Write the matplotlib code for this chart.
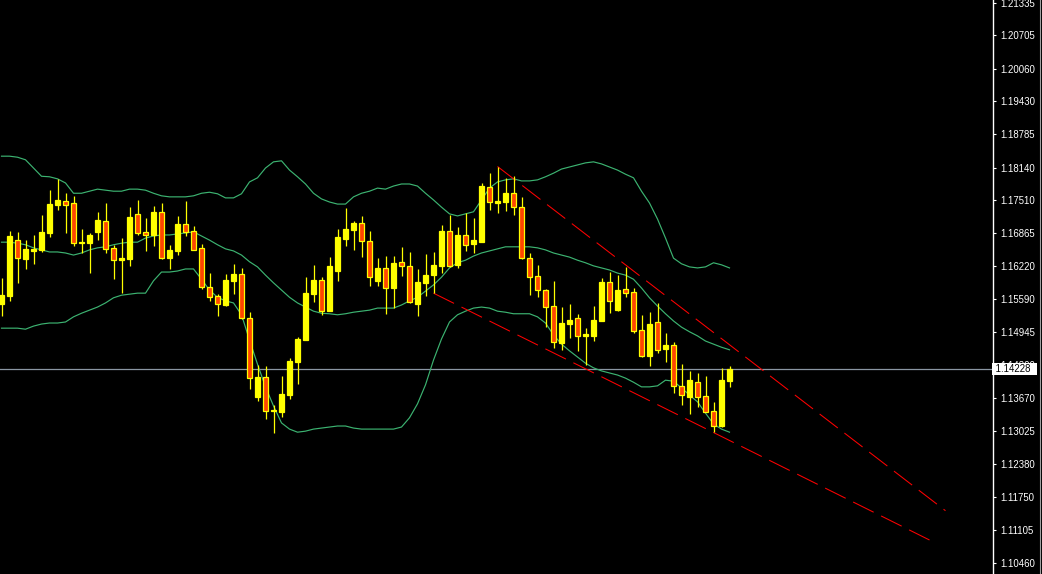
import matplotlib
matplotlib.use("Agg")
import matplotlib.pyplot as plt
import matplotlib.transforms as mtransforms
from matplotlib.lines import Line2D
import numpy as np

# ---------------- data ----------------
opens = [1.1549,1.1564,1.1673,1.1636,1.1652,1.1654,1.1687,1.1741,1.1749,1.1745,
 1.1667,1.1667,1.1689,1.1710,1.1658,1.1634,1.1636,1.1724,1.1689,1.1683,
 1.1728,1.1638,1.1652,1.1704,1.1691,1.1658,1.1582,1.1564,1.1547,1.1594,
 1.1607,1.1522,1.1368,1.1407,1.1341,1.1339,1.1372,1.1436,1.1479,1.1568,
 1.1596,1.1535,1.1613,1.1675,1.1693,1.1706,1.1671,1.1594,1.1619,1.1580,
 1.1631,1.1623,1.1549,1.1590,1.1605,1.1623,1.1691,1.1625,1.1683,1.1665,
 1.1669,1.1776,1.1745,1.1747,1.1764,1.1737,1.1638,1.1603,1.1576,1.1545,
 1.1473,1.1510,1.1522,1.1487,1.1487,1.1516,1.1592,1.1537,1.1578,1.1572,
 1.1498,1.1448,1.1514,1.1462,1.1469,1.1390,1.1368,1.1397,1.1370,1.1341,
 1.1312,1.1399]

highs = [1.1599,1.1691,1.1689,1.1673,1.1683,1.1722,1.1770,1.1792,1.1764,1.1759,
 1.1695,1.1687,1.1728,1.1745,1.1664,1.1677,1.1737,1.1751,1.1716,1.1739,
 1.1745,1.1664,1.1720,1.1749,1.1700,1.1665,1.1609,1.1568,1.1607,1.1627,
 1.1619,1.1533,1.1431,1.1429,1.1353,1.1409,1.1444,1.1485,1.1601,1.1625,
 1.1601,1.1640,1.1695,1.1735,1.1710,1.1720,1.1691,1.1638,1.1642,1.1642,
 1.1660,1.1650,1.1617,1.1646,1.1650,1.1702,1.1722,1.1699,1.1726,1.1716,
 1.1784,1.1803,1.1815,1.1794,1.1798,1.1757,1.1648,1.1625,1.1578,1.1594,
 1.1543,1.1549,1.1530,1.1502,1.1545,1.1599,1.1611,1.1605,1.1621,1.1580,
 1.1528,1.1533,1.1551,1.1493,1.1475,1.1432,1.1419,1.1415,1.1409,1.1359,
 1.1425,1.1429]

lows = [1.1526,1.1555,1.1590,1.1617,1.1627,1.1650,1.1679,1.1731,1.1687,1.1662,
 1.1648,1.1609,1.1673,1.1648,1.1597,1.1570,1.1623,1.1683,1.1652,1.1662,
 1.1636,1.1617,1.1644,1.1681,1.1654,1.1578,1.1555,1.1526,1.1545,1.1568,
 1.1520,1.1384,1.1361,1.1326,1.1298,1.1330,1.1364,1.1394,1.1479,1.1553,
 1.1528,1.1535,1.1594,1.1662,1.1654,1.1640,1.1584,1.1584,1.1530,1.1541,
 1.1603,1.1551,1.1526,1.1564,1.1570,1.1609,1.1621,1.1619,1.1652,1.1648,
 1.1669,1.1731,1.1726,1.1730,1.1722,1.1636,1.1566,1.1562,1.1504,1.1464,
 1.1460,1.1483,1.1458,1.1431,1.1477,1.1516,1.1531,1.1535,1.1562,1.1493,
 1.1446,1.1429,1.1454,1.1436,1.1376,1.1353,1.1335,1.1349,1.1339,1.1300,
 1.1310,1.1388]

closes = [1.1566,1.1681,1.1638,1.1656,1.1656,1.1689,1.1743,1.1751,1.1741,1.1667,
 1.1669,1.1683,1.1712,1.1656,1.1634,1.1638,1.1718,1.1687,1.1683,1.1728,
 1.1638,1.1654,1.1704,1.1689,1.1654,1.1582,1.1562,1.1549,1.1596,1.1607,
 1.1522,1.1405,1.1407,1.1341,1.1343,1.1374,1.1438,1.1481,1.1570,1.1596,
 1.1535,1.1623,1.1679,1.1695,1.1706,1.1671,1.1601,1.1619,1.1580,1.1629,
 1.1623,1.1553,1.1592,1.1605,1.1625,1.1691,1.1623,1.1683,1.1664,1.1673,
 1.1778,1.1747,1.1749,1.1764,1.1737,1.1638,1.1601,1.1576,1.1543,1.1475,
 1.1512,1.1518,1.1487,1.1491,1.1518,1.1592,1.1555,1.1576,1.1570,1.1497,
 1.1448,1.1510,1.1460,1.1469,1.1390,1.1372,1.1401,1.1368,1.1339,1.1312,
 1.1401,1.14228]

bb_upper = [1.1836,1.1836,1.1834,1.1829,1.1813,1.1797,1.1796,1.1792,1.1784,1.1764,
 1.1764,1.1768,1.1772,1.1770,1.1768,1.1768,1.1772,1.1772,1.1770,1.1764,
 1.1759,1.1757,1.1757,1.1757,1.1759,1.1764,1.1766,1.1763,1.1755,1.1755,
 1.1763,1.1786,1.1794,1.1813,1.1825,1.1827,1.1809,1.1796,1.1782,1.1764,
 1.1753,1.1747,1.1743,1.1743,1.1757,1.1764,1.1768,1.1774,1.1772,1.1778,
 1.1782,1.1782,1.1778,1.1764,1.1751,1.1737,1.1724,1.1720,1.1724,1.1728,
 1.1751,1.1774,1.1786,1.1790,1.1792,1.1788,1.1788,1.1790,1.1796,1.1803,
 1.1811,1.1815,1.1819,1.1823,1.1825,1.1821,1.1815,1.1809,1.1801,1.1794,
 1.1768,1.1745,1.1714,1.1677,1.1638,1.1627,1.1621,1.1619,1.1621,1.1629,
 1.1625,1.1619]

bb_middle = [1.1669,1.1669,1.1667,1.1664,1.1658,1.1654,1.1650,1.1650,1.1648,1.1644,
 1.1648,1.1654,1.1658,1.1660,1.1664,1.1667,1.1669,1.1669,1.1677,1.1681,
 1.1683,1.1683,1.1685,1.1687,1.1689,1.1681,1.1673,1.1664,1.1656,1.1652,
 1.1644,1.1631,1.1621,1.1605,1.1590,1.1576,1.1562,1.1551,1.1543,1.1535,
 1.1531,1.1530,1.1528,1.1530,1.1533,1.1535,1.1537,1.1541,1.1541,1.1541,
 1.1547,1.1555,1.1562,1.1574,1.1586,1.1601,1.1619,1.1629,1.1634,1.1642,
 1.1648,1.1652,1.1656,1.1660,1.1660,1.1660,1.1660,1.1658,1.1654,1.1648,
 1.1644,1.1640,1.1634,1.1629,1.1623,1.1619,1.1615,1.1609,1.1605,1.1597,
 1.1580,1.1561,1.1545,1.1530,1.1516,1.1504,1.1495,1.1487,1.1477,1.1471,
 1.1465,1.1460]

bb_lower = [1.1502,1.1502,1.1502,1.1500,1.1506,1.1510,1.1512,1.1512,1.1514,1.1524,
 1.1531,1.1537,1.1543,1.1551,1.1561,1.1566,1.1568,1.1570,1.1570,1.1594,
 1.1611,1.1611,1.1613,1.1617,1.1617,1.1597,1.1576,1.1562,1.1555,1.1551,
 1.1528,1.1479,1.1432,1.1388,1.1351,1.1318,1.1306,1.1300,1.1302,1.1306,
 1.1308,1.1310,1.1312,1.1312,1.1308,1.1306,1.1306,1.1306,1.1306,1.1306,
 1.1310,1.1328,1.1355,1.1392,1.1440,1.1481,1.1514,1.1528,1.1535,1.1541,
 1.1543,1.1541,1.1535,1.1533,1.1530,1.1530,1.1530,1.1524,1.1512,1.1489,
 1.1471,1.1458,1.1446,1.1434,1.1425,1.1419,1.1415,1.1411,1.1405,1.1397,
 1.1388,1.1388,1.1390,1.1401,1.1399,1.1386,1.1372,1.1359,1.1337,1.1316,
 1.1306,1.1300]

# trend lines (bar index, price)
trend_upper_idx = [62, 118]
trend_upper_price = [1.1816, 1.11475]
trend_lower_idx = [54, 116]
trend_lower_price = [1.1570, 1.10906]

tick_values = [1.21335, 1.20705, 1.20060, 1.19430, 1.18785, 1.18140, 1.17510,
               1.16865, 1.16220, 1.15590, 1.14945, 1.14300, 1.13670, 1.13025,
               1.12380, 1.11750, 1.11105, 1.10460]

# ---------------- styling ----------------
BULL = "#FFFF00"
BEAR = "#FF4500"
BAND = "#3CB371"
TREND = "#FF0000"
PRICE_LINE = "#8A96A3"

W, H = 1042, 574
fig = plt.figure(figsize=(W / 100, H / 100), dpi=100, facecolor="black")
ax = fig.add_axes([0, 0, 993 / W, 1])
ax.set_facecolor("black")

n = len(closes)
idx = np.arange(n)
o = np.array(opens); c = np.array(closes)
hi = np.array(highs); lo = np.array(lows)

# pixel geometry: 8 px per bar
x0 = -1.5 / 8
ax.set_xlim(x0, x0 + 993 / 8)
ax.set_ylim(1.10246, 1.21393)

# price line
ax.axhline(closes[-1], color=PRICE_LINE, lw=0.9, zorder=1)

# bands
for band in (bb_upper, bb_middle, bb_lower):
    ax.plot(idx, band, color=BAND, lw=0.85, zorder=2, antialiased=True)

# trend lines
for xs, ys in ((trend_upper_idx, trend_upper_price), (trend_lower_idx, trend_lower_price)):
    ax.plot(xs, ys, color=TREND, lw=0.75, dashes=(22, 8), zorder=2)

# wicks
ax.vlines(idx, lo, hi, color=BULL, lw=0.9, zorder=3)

# bodies
bull = c >= o
bottoms = np.minimum(o, c)
heights = np.maximum(np.abs(c - o), 0.00002)
face = [BULL if b else BEAR for b in bull]
ax.bar(idx, heights, bottom=bottoms, width=0.52, color=face,
       edgecolor=BULL, linewidth=0.9, zorder=4)

# axis styling
for s in ("top", "left", "bottom"):
    ax.spines[s].set_visible(False)
ax.spines["right"].set_color("white")
ax.spines["right"].set_linewidth(1.0)
ax.set_xticks([])
ax.yaxis.tick_right()
ax.set_yticks(tick_values)
ax.set_yticklabels([f"{v:.5f}" for v in tick_values])
ax.tick_params(axis="y", colors="white", direction="out", length=2.2,
               width=0.8, pad=3, labelsize=6.9, labelcolor="white")
for lab in ax.get_yticklabels():
    lab.set_fontfamily("Liberation Sans")

# current price label box
trans = mtransforms.blended_transform_factory(ax.transAxes, ax.transData)
ax.text(1.0, closes[-1], f" {closes[-1]:.5f}  ", transform=trans,
        ha="left", va="center", fontsize=6.9, family="Liberation Sans",
        color="black", clip_on=False, zorder=10,
        bbox=dict(boxstyle="square,pad=0.12", fc="white", ec="none"))

# right border
fig.add_artist(Line2D([1039.5 / W] * 2, [0, 1], color="#A0A0A0", lw=0.8))

fig.savefig("out.png", dpi=100, facecolor="black")
